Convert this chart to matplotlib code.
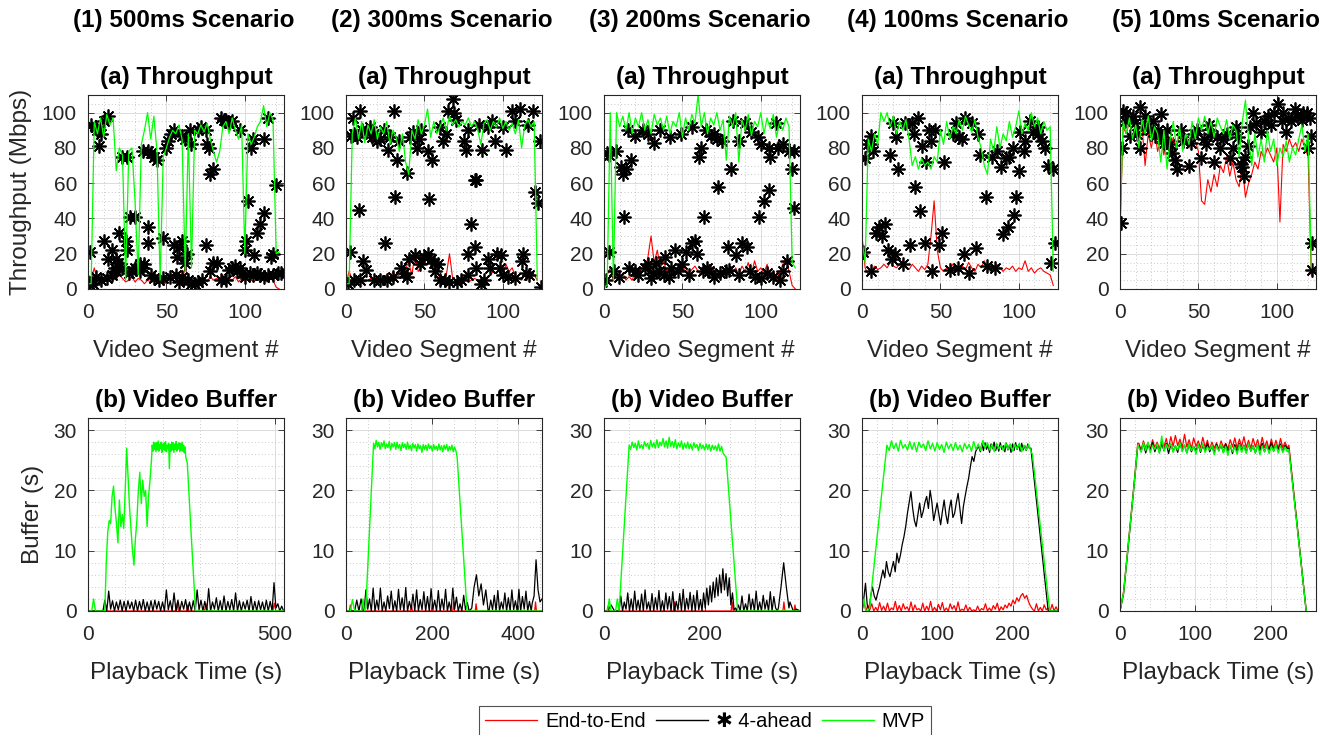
import matplotlib
matplotlib.use("Agg")
import matplotlib.pyplot as plt
from matplotlib.lines import Line2D
from matplotlib.ticker import MultipleLocator
import numpy as np

plt.rcParams['font.family'] = ['Liberation Sans', 'DejaVu Sans']

# ------------------------------------------------------------------
# Throughput (Mbps), sampled every second video segment
# ------------------------------------------------------------------
segments = np.arange(0, 124, 2)

e2e_tp_1 = [3, 5, 12, 5, 6, 4, 5, 7, 5, 6,
            8, 6, 4, 5, 7, 4, 6, 5, 3, 5,
            4, 6, 3, 5, 4, 3, 6, 5, 4, 7,
            5, 12, 6, 3, 4, 2, 5, 6, 4, 7,
            5, 6, 5, 8, 4, 6, 5, 7, 4, 6,
            5, 8, 5, 4, 7, 5, 6, 4, 8, 5,
            1, 0]
mvp_tp_1 = [3, 3, 95, 88, 97, 86, 99, 93, 97, 67,
            80, 76, 5, 78, 80, 50, 8, 82, 90, 100,
            85, 98, 78, 5, 75, 80, 86, 90, 88, 93,
            85, 10, 88, 12, 90, 88, 93, 89, 94, 85,
            78, 72, 78, 92, 95, 88, 97, 90, 85, 93,
            20, 88, 82, 86, 92, 95, 104, 92, 100, 96,
            20, 21]
ahead_tp_1 = [(0, 4), (1, 2), (1, 21), (2, 93), (5, 92), (6, 90), (7, 81), (8, 88), (10, 95),
              (13, 98), (5, 7), (8, 5), (12, 6), (10, 27), (13, 17), (15, 22), (17, 12), (18, 17),
              (19, 15), (20, 32), (22, 75), (25, 75), (24, 27), (25, 22), (27, 41), (30, 41),
              (28, 10), (30, 12), (33, 14), (35, 12), (35, 78), (38, 78), (40, 77), (42, 75),
              (44, 73), (38, 35), (38, 26), (40, 8), (42, 6), (45, 5), (48, 29), (50, 80), (51, 84),
              (53, 88), (55, 90), (55, 25), (57, 18), (58, 24), (60, 27), (60, 87), (62, 85),
              (62, 15), (63, 20), (65, 90), (66, 82), (60, 7), (64, 5), (68, 3), (70, 4), (70, 90),
              (72, 92), (75, 90), (75, 25), (76, 82), (77, 80), (78, 65), (80, 68), (78, 10),
              (80, 15), (82, 15), (85, 5), (85, 97), (87, 96), (88, 95), (90, 94), (92, 95),
              (92, 12), (95, 10), (97, 12), (97, 90), (100, 22), (101, 27), (100, 7), (102, 50),
              (104, 80), (105, 85), (106, 19), (108, 32), (110, 37), (112, 43), (112, 85),
              (115, 97), (117, 18), (118, 20), (120, 59), (121, 9), (105, 8), (110, 8), (115, 8),
              (3, 3), (15, 8), (18, 10), (22, 12), (26, 9), (33, 10), (36, 14), (48, 6), (52, 7),
              (56, 8), (58, 4), (66, 3), (73, 5), (88, 5), (90, 11), (94, 13), (98, 9), (103, 9),
              (108, 9), (112, 7), (118, 8), (123, 9)]

e2e_tp_2 = [3, 10, 5, 7, 5, 6, 4, 5, 6, 5,
            4, 6, 5, 8, 6, 10, 7, 8, 9, 12,
            15, 8, 20, 10, 12, 15, 18, 16, 14, 10,
            6, 5, 8, 20, 6, 5, 4, 5, 6, 4,
            5, 6, 5, 4, 7, 6, 8, 10, 9, 12,
            8, 14, 10, 12, 7, 6, 5, 8, 6, 10,
            8, 5]
mvp_tp_2 = [3, 3, 88, 97, 85, 95, 83, 93, 88, 96,
            85, 92, 88, 95, 82, 90, 86, 78, 88, 72,
            65, 90, 85, 96, 88, 93, 102, 86, 95, 88,
            92, 97, 90, 98, 93, 96, 92, 95, 93, 97,
            92, 95, 90, 82, 94, 96, 90, 95, 92, 97,
            91, 95, 90, 94, 88, 96, 80, 93, 96, 92,
            95, 5]
ahead_tp_2 = [(1.5, 3), (2.6, 21), (3, 87), (4.7, 97), (8, 45), (9, 101), (11, 16), (13, 11),
              (13, 89), (16.5, 86), (20, 84), (22, 85), (25, 26), (26, 5), (27, 79), (28, 86),
              (30.5, 101), (31.5, 52), (32.6, 73), (35, 12), (39, 66), (39, 7), (43, 89), (44, 19),
              (45.5, 80), (46.6, 85), (52, 78), (53, 51), (55, 73), (52, 20), (54, 17), (56, 15),
              (58.4, 14), (61.6, 84), (63, 5), (65, 101), (68, 108), (69, 100), (71, 4), (73.4, 5),
              (75.5, 84), (76.6, 79), (77.7, 20), (80, 37), (82, 62), (83, 62), (82, 24), (83, 12),
              (86, 3), (87, 79), (90.6, 92), (90.6, 17), (95, 84), (96, 20), (98, 12), (99, 19),
              (102, 79), (103, 7), (105.6, 101), (111, 102), (112, 16), (113, 20), (115, 9),
              (119.5, 101), (120.6, 55), (122.7, 49), (124, 84), (124.5, 1), (5, 5), (9, 5),
              (17.6, 5), (22, 5), (30, 7), (37, 9), (40, 17), (47, 14), (50, 18), (57, 10), (60, 5),
              (66, 4), (78, 8), (88, 5), (92, 12), (100, 8), (108, 6), (117, 8), (5, 88), (7, 86),
              (10, 90), (15, 92), (18, 88), (24, 90), (34, 84), (41, 86), (48, 90), (60, 92),
              (64, 88), (70, 96), (78, 90), (85, 93), (93, 95), (100, 92), (108, 95), (116, 93)]

e2e_tp_3 = [0, 8, 12, 5, 8, 6, 9, 5, 7, 5,
            10, 8, 12, 10, 18, 30, 15, 22, 12, 16,
            10, 12, 8, 10, 14, 10, 12, 9, 11, 13,
            10, 8, 12, 9, 14, 10, 11, 8, 10, 7,
            11, 9, 12, 8, 13, 10, 15, 8, 16, 10,
            12, 9, 14, 8, 10, 6, 9, 14, 17, 10,
            2, 0]
mvp_tp_3 = [1, 2, 100, 5, 100, 92, 98, 90, 100, 88,
            97, 92, 100, 90, 96, 88, 99, 93, 97, 90,
            98, 88, 95, 92, 100, 86, 97, 90, 99, 94,
            110, 92, 100, 88, 97, 93, 100, 90, 96, 73,
            98, 92, 100, 72, 96, 90, 99, 87, 95, 92,
            100, 88, 97, 91, 99, 86, 95, 90, 97, 92,
            15, 12]
ahead_tp_3 = [(1.3, 5), (3, 21), (3.4, 76), (7.6, 78), (10.8, 69), (14, 68), (17, 73), (13, 41),
              (6.6, 10), (9.7, 7), (15, 90), (20, 87), (20, 10), (24.6, 90), (28, 14), (31, 9),
              (32, 83), (36, 90), (35, 10), (39, 18), (41.5, 7), (45, 22), (47, 10), (49, 88),
              (52, 21), (56, 26), (58, 27), (59.5, 20), (60.6, 75), (62, 80), (63, 10), (64, 41),
              (67, 10), (65, 90), (68, 87), (72, 85), (73, 58), (75, 84), (78, 10), (79, 24),
              (81, 68), (82, 95), (84, 19), (88, 26), (91, 24), (90, 94), (94, 89), (96.6, 7),
              (98.7, 41), (102, 50), (105, 56), (100, 82), (105, 80), (106, 75), (110, 94),
              (111, 80), (112, 5), (117, 16), (120, 68), (121, 46), (118, 78), (121, 78), (2, 77),
              (12, 65), (16, 12), (22, 8), (26, 12), (30, 6), (33, 15), (38, 8), (43, 12), (50, 14),
              (54, 8), (66, 12), (70, 7), (74, 9), (80, 11), (86, 8), (93, 10), (100, 6), (104, 9),
              (108, 7), (114, 10), (28, 88), (42, 86), (56, 92), (70, 88), (86, 84), (98, 86),
              (114, 82)]

e2e_tp_4 = [30, 12, 8, 10, 13, 11, 12, 14, 12, 15,
            13, 12, 14, 16, 12, 11, 14, 12, 10, 13,
            11, 14, 30, 50, 22, 12, 10, 12, 11, 14,
            12, 10, 13, 11, 15, 12, 10, 14, 12, 16,
            12, 10, 11, 14, 12, 10, 12, 11, 13, 10,
            12, 11, 16, 10, 12, 9, 11, 12, 10, 9,
            8, 2]
mvp_tp_4 = [28, 15, 85, 78, 88, 82, 100, 95, 100, 92,
            98, 88, 95, 90, 96, 85, 70, 75, 68, 74,
            70, 72, 68, 75, 72, 90, 82, 95, 85, 92,
            88, 96, 90, 98, 93, 89, 96, 86, 80, 70,
            65, 85, 78, 92, 80, 88, 84, 95, 86, 92,
            101, 88, 94, 90, 100, 92, 97, 88, 95, 90,
            92, 10]
ahead_tp_4 = [(0.6, 21), (1.7, 74), (4, 82), (6, 87), (7, 78), (6, 10), (9, 32), (11, 35),
              (12.5, 30), (14.6, 37), (16.7, 22), (19, 17), (21, 20), (17.8, 76), (20, 94), (22, 86),
              (23, 68), (26, 14), (27.5, 94), (30.7, 25), (31.8, 94), (34, 58), (36, 97), (37, 44),
              (38, 81), (40, 26), (41, 72), (42.5, 90), (44.6, 10), (46.8, 90), (49, 25), (51, 32),
              (52, 72), (56, 11), (60, 94), (61, 12), (64, 85), (65, 20), (66, 97), (68, 9),
              (70.4, 94), (72.5, 23), (75, 76), (79, 52), (80, 13), (83, 75), (85, 12), (88.6, 69),
              (89.7, 31), (93, 35), (94, 75), (97, 42), (98, 52), (100, 67), (101, 89), (103.6, 78),
              (107, 95), (109, 89), (112, 92), (115, 84), (118.7, 70), (120.8, 15), (123, 26),
              (6, 82), (33, 88), (44, 84), (58, 88), (62, 86), (74, 88), (86, 78), (92, 74),
              (96, 80), (104, 84), (112, 88), (117, 80), (122, 68)]

e2e_tp_5 = [32, 92, 88, 95, 85, 97, 90, 93, 70, 88,
            80, 90, 78, 85, 76, 88, 80, 86, 78, 90,
            82, 86, 80, 88, 84, 78, 50, 48, 62, 55,
            65, 58, 70, 66, 75, 64, 72, 62, 58, 70,
            52, 60, 65, 72, 68, 78, 74, 80, 76, 72,
            80, 38, 82, 78, 85, 80, 83, 78, 85, 80,
            75, 8]
mvp_tp_5 = [35, 95, 88, 97, 85, 93, 80, 96, 88, 98,
            84, 92, 88, 72, 90, 68, 85, 95, 80, 92,
            78, 88, 82, 95, 85, 97, 90, 98, 88, 95,
            86, 97, 92, 88, 96, 85, 93, 90, 75, 95,
            107, 85, 70, 88, 75, 85, 72, 90, 78, 85,
            70, 80, 75, 84, 72, 80, 76, 85, 93, 78,
            88, 12]
ahead_tp_5 = [(0.5, 37.5), (1, 80), (2, 101), (4, 100), (6.4, 87), (9.7, 94), (13, 103), (13, 80),
              (16, 98), (19, 90), (22.5, 87), (26, 99), (28, 83), (30, 90), (33, 77), (35, 73),
              (36.5, 68), (38.6, 90), (44, 70), (45, 83), (49, 90), (51.5, 74), (53.6, 85), (57, 93),
              (60, 72), (62, 86), (65.5, 85), (70, 74), (72, 80), (74, 92), (75, 86), (77, 71),
              (78, 69), (79, 64), (81.5, 81), (85, 100), (87, 94), (90, 89), (94.4, 98), (96.6, 93),
              (101, 105), (104, 100), (106, 89), (109, 95), (111.6, 102), (116, 96), (119, 100),
              (120, 80), (122, 87), (122.3, 26), (122.7, 11), (3, 95), (8, 98), (11, 88), (15, 92),
              (21, 95), (24, 90), (27, 86), (32, 82), (40, 84), (47, 88), (55, 82), (58, 88),
              (64, 80), (68, 88), (80, 75), (83, 92), (92, 95), (98, 100), (103, 95), (107, 97),
              (113, 98), (117, 100), (121, 97)]

# ------------------------------------------------------------------
# Video buffer (s): runs of (t_start, t_end, values), values evenly spaced in time
# ------------------------------------------------------------------
e2e_buf_1 = [(0, 236, [0, 0]), (236, 242, [0, 1.3, 0]), (264, 270, [0, 1.0, 0]),
             (312, 320, [0, 1.2, 0]), (495, 503, [0, 1.3, 0]), (503, 524, [0, 0])]
ahead_buf_1 = [(0, 38, [0, 0]),
               (40, 524, [0, 1.8, 0, 3.3, 0.3, 1.7, 0, 1.5, 0.2, 1.8, 0, 1.6, 0, 1.7, 0.4, 1.5,
                          0, 1.8, 0, 1.6, 0.2, 1.9, 0, 1.5, 0, 1.7, 0, 1.8, 0.3, 1.6, 0, 1.5, 0,
                          3.5, 0.2, 1.7, 0, 3, 0, 1.8, 0, 1.6, 0.3, 1.9, 0, 1.5, 0, 1.7, 0, 3.5,
                          0.2, 1.8, 0, 1.6, 0, 3.7, 0, 1.5, 0.3, 2.2, 0, 1.7, 0, 2.5, 0, 1.6, 0.2,
                          1.9, 0, 3, 0, 1.7, 0, 1.5, 0.3, 1.8, 0, 2.4, 0, 1.6, 0, 1.7, 0.2, 1.5, 0,
                          1.8, 0, 1.6, 0, 4.7, 0.5, 1.2, 0, 0.8, 0])]
mvp_buf_1 = [(0, 20, [0, 0, 0, 2, 0]),
             (45, 170, [0, 8, 13, 15, 14.5, 19, 20.7, 17, 14.5, 11.3, 18.4, 14, 16, 13.7, 20, 27,
                        22, 17, 13.4, 10, 7.6, 12, 15, 20, 23, 17.8, 21.7, 19, 20, 14, 19, 21.7, 25]),
             (172, 262, [27.5, 26.5, 28, 26.8, 27.8, 26.4, 27.9, 26.7, 28.2, 26.5,
                         27.6, 26.9, 28, 26.3, 27.7, 26.8, 27.9, 26.6, 28.1, 26.4,
                         27.5, 26.9, 27.8, 23.6, 27.6, 26.5, 28, 26.7, 27.9, 26.3,
                         27.7, 26.8, 28.1, 26.5, 27.6, 26.9, 27.9, 26.4, 27.8, 26.6,
                         28, 26.5, 27.5, 26.2, 27.2, 25.5]),
             (266, 288, [24.5, 12, 0]), (290, 524, [0, 0])]

e2e_buf_2 = [(0, 8, [0, 0]), (8, 12, [0, 1, 0]), (150, 154, [0, 1, 0]), (198, 202, [0, 1.2, 0]),
             (248, 252, [0, 1.5, 0]), (300, 304, [0, 1.2, 0]), (438, 442, [0, 1.5, 0]),
             (442, 455, [0, 0])]
ahead_buf_2 = [(0, 40, [0, 0, 0, 0, 0, 1.8, 0, 2, 0]),
               (42, 290, [0, 3.5, 0.3, 2, 0, 3.8, 0, 1.8, 0.2, 3.8, 0, 1.5, 0, 2.5, 0.4, 3.3, 0,
                          1.7, 0, 3.6, 0.2, 2.2, 0, 3.9, 0, 1.6, 0.3, 2.8, 0, 3.5, 0, 1.9, 0.2, 3.2,
                          0, 2.4, 0, 3.7, 0.3, 1.8, 0, 3.4, 0, 2, 0.2, 3.6, 0, 1.5, 0, 3.8, 0.3,
                          2.3, 0, 1.2, 0, 2.6, 0.2, 1.4, 0, 0.3]),
               (292, 330, [0.5, 4, 6, 2.5, 4.5, 1, 3.5, 0]),
               (332, 430, [0, 1.8, 0.2, 2.6, 0, 3.4, 0, 1.5, 0.3, 3, 0, 2.2, 0, 3.5, 0.2, 1.7,
                           0, 3.6, 0, 2.4, 0.3, 3.3, 0, 1.6, 0]),
               (432, 455, [1.2, 2.5, 8.5, 3.5, 1.5, 2])]
mvp_buf_2 = [(0, 20, [0, 0, 0, 1.9, 0]), (36, 46, [0, 2, 0, 0.5]),
             (64, 255, [27.8, 26.9, 28.3, 27.2, 28, 26.8, 27.9, 27.3, 28.2, 26.9,
                        27.7, 27.1, 28.1, 26.7, 27.8, 27.2, 27.9, 26.8, 28, 27,
                        27.6, 26.6, 27.9, 27.1, 27.7, 26.8, 28, 26.9, 27.5, 26.6,
                        27.8, 27, 27.6, 26.5, 27.7, 26.9, 27.4, 26.3, 27.6, 26.8,
                        27.5, 26.6, 27.7, 26.9, 27.4, 26.5, 27.6, 26.8, 27.3, 26.6,
                        27.7, 26.7, 27.4, 26.4, 27.5, 26.8, 27.6, 26.5, 27.3, 26.7,
                        27.5, 26.4, 27.2, 26.6]),
             (258, 281, [25.5, 0]), (283, 455, [0, 0])]

e2e_buf_3 = [(0, 6, [0, 0]), (6, 10, [0, 0.8, 0]), (138, 142, [0, 1.5, 0]),
             (253, 257, [0, 1.5, 0]), (356, 360, [0, 1.5, 0]), (378, 382, [0, 1, 0]),
             (382, 390, [0, 0])]
ahead_buf_3 = [(0, 28, [0, 0, 1, 0, 0]),
               (30, 192, [0, 2.5, 0, 1.5, 0.3, 3, 0, 2, 0, 3.3, 0.2, 1.8, 0, 2.8, 0, 3.5, 0.3,
                          1.5, 0, 2.9, 0, 2.2, 0.2, 3.4, 0, 1.7, 0, 3, 0.3, 2.4, 0, 3.2, 0, 1.6,
                          0.2, 2.9, 0, 3.6, 0, 2.1, 0.3, 3.1, 0, 2.6, 0, 3.4, 0.2, 1.9]),
               (195, 262, [0, 3, 0.5, 3.8, 1, 4.2, 1.5, 4.8, 2.2, 5.5, 2.5, 6, 3, 7, 3.5, 6.2,
                           2.5, 5.5, 1, 3, 0.2, 0.5]),
               (264, 345, [0, 1, 0, 2.5, 0, 1.2, 0, 2.8, 0.2, 2, 0, 3.3, 0, 1.5, 0, 2.6, 0.3,
                           1.8, 0, 3.2, 0, 2.4, 0.5, 0]),
               (347, 368, [0.5, 4, 8, 4, 0.5]), (370, 390, [1.5, 0, 0.3, 0])]
mvp_buf_3 = [(0, 14, [0, 0, 0, 2, 0]), (23, 30, [0, 2, 0]),
             (50, 240, [27.5, 26.8, 28, 27.1, 27.8, 26.7, 28.2, 27, 27.6, 26.9,
                        28.1, 27.3, 27.8, 26.8, 28.3, 27.2, 27.9, 27, 28.4, 27.1,
                        28, 27.4, 28.6, 27.2, 28.2, 27, 28.8, 27.3, 28.1, 27.1,
                        28.4, 26.9, 27.9, 27.2, 28.2, 26.8, 27.8, 27, 28, 26.9,
                        27.7, 26.7, 27.9, 27.1, 27.6, 26.6, 27.8, 26.9, 27.5, 26.7,
                        27.7, 26.8, 27.6, 26.5, 27.5, 26.8, 27.4, 26.6, 27.7, 26.5,
                        27.3, 26.2, 25.8]),
             (243, 266, [25.5, 0]), (268, 390, [0, 0])]

e2e_buf_4 = [(0, 260, [0, 1.5, 0, 1, 0.2, 1.2, 0, 0.6, 0, 1.4, 0.1, 0.8, 0, 1.3, 0, 0.5, 0.2,
                       1.6, 0, 0.9, 0, 1.2, 0.3, 0.7, 0, 1.5, 0, 1, 0.2, 0.4, 0, 1.3, 0, 0.8,
                       0.1, 1.6, 0, 0.6, 0, 1.1, 0.2, 1.4, 0, 0.5, 0, 1.2, 0.3, 0.9, 0, 1.5, 0,
                       0.3, 0.1, 1, 0, 0.6, 0, 0.2, 0, 0.8, 0, 0.4, 0.2, 1.2, 0, 0.5, 0, 0.9,
                       0.3, 1.3, 0, 0.7, 0.2, 1, 0.5, 1.3, 0.8, 1.8, 1.2, 2.2, 1.6, 2.5, 2.9,
                       2.1, 2.6, 1.5, 0.8, 0.3, 0, 1.2, 0, 0.6, 0, 1, 0.2, 0.5, 0, 1.1, 0, 0.7, 0])]
ahead_buf_4 = [(0, 153, [0, 2, 4.6, 1, 0, 2.5, 4, 2.5, 1.8, 3, 4, 5.5, 6.8, 5.5, 8.2, 6.5, 5.7, 7,
                         8.2, 6.5, 9.6, 8, 9.3, 11, 12.3, 14, 16.2, 18, 19.8, 17, 15, 14, 16,
                         17.9, 15.5, 16.5, 18, 19, 17, 20, 18, 15, 16.5, 17.9, 16, 14.3, 16.5,
                         18.4, 16, 14.5, 17, 18.4, 15.5, 16.2, 18, 19.5, 17, 14.5, 17.3, 19, 20.6,
                         22, 23.9, 25.6, 24.8, 26.4, 27]),
               (155, 222, [27.2, 26.4, 27.8, 26.6, 27.9, 26.8, 27.5, 26.3, 27.7, 26.9,
                           28, 26.6, 27.6, 26.5, 27.9, 26.8, 27.4, 26.4, 27.8, 26.7,
                           27.5, 26.3, 27.7, 26.6, 27.9, 26.8, 27.6, 26.5, 27.8, 26.7,
                           27.4, 26.6, 27.7, 27]),
               (224, 247, [27, 0]), (249, 260, [0, 0])]
mvp_buf_4 = [(0, 10, [0, 2, 0, 0, 0.5]),
             (33, 224, [27.5, 26.6, 28.2, 26.9, 27.8, 26.5, 28.3, 27, 27.6, 26.7,
                        28.1, 26.8, 27.9, 26.4, 28, 27.1, 27.7, 26.6, 28.2, 26.9,
                        27.8, 26.5, 27.9, 26.8, 27.6, 26.3, 28, 26.9, 27.7, 26.6,
                        27.9, 26.7, 27.5, 26.4, 27.8, 26.9, 27.6, 26.5, 28.1, 26.8,
                        27.7, 26.6, 28.3, 27, 27.9, 26.7, 27.6, 26.4, 27.8, 26.9,
                        27.5, 26.6, 27.9, 26.8, 27.7, 26.5, 27.6, 26.9, 27.8, 26.4,
                        27.5, 26.7, 27.6, 26.5]),
             (226, 249, [26, 0]), (251, 260, [0, 0])]

e2e_buf_5 = [(0, 23.5, [0, 3.2, 9.2, 15.2, 21.3, 27.8]),
             (25, 222, [27.8, 26.7, 28.2, 27, 27.9, 26.8, 28.4, 27.1, 28, 26.9,
                        28.3, 27.2, 28.6, 27, 28.9, 27.3, 29.1, 27.4, 28.5, 27.1,
                        29.3, 27.2, 28.4, 26.9, 28.7, 27.3, 28.2, 27, 28.8, 27.1,
                        28.3, 26.8, 28, 27, 27.9, 26.8, 28.2, 27.1, 27.8, 26.9,
                        28.4, 27.2, 28.7, 27, 28.5, 27.3, 28.9, 27.1, 28.3, 27,
                        28.6, 27.2, 28.4, 26.9, 28.8, 27.1, 28.2, 26.8, 28.5, 27,
                        28.3, 26.9, 28.6, 27.1, 28, 27]),
             (224, 247, [27.5, 0])]
ahead_buf_5 = [(0, 23.5, [0, 2.8, 8.7, 14.8, 21, 27.2]),
               (25, 222, [27.4, 26.5, 27.8, 26.2, 27.6, 26.7, 27.9, 26.4, 27.5, 26.3,
                          27.7, 26.6, 27.8, 26.1, 27.6, 26.5, 27.4, 26.3, 27.9, 26.6,
                          27.5, 26.2, 27.7, 26.4, 27.3, 26.6, 27.6, 26.3, 27.5, 26.5,
                          27.8, 26.4, 27.4, 26.2, 27.6, 26.6, 27.5, 26.3, 27.7, 26.5,
                          27.4, 26.1, 27.6, 26.4, 27.8, 26.6, 27.5, 26.3, 27.7, 26.5,
                          27.4, 26.2, 27.6, 26.6, 27.8, 26.4, 27.5, 26.7, 27.9, 26.5,
                          27.6, 26.8, 27.7, 26.4, 27.5, 26.9]),
               (224, 247, [27, 0])]
mvp_buf_5 = [(0, 23.5, [0, 3, 9, 15, 21, 27.5]),
             (25, 222, [27.2, 26.3, 27.9, 26.6, 28, 26.2, 27.5, 26.8, 27.7, 26.1,
                        29, 26.5, 27.6, 26.9, 27.8, 26.3, 27.4, 26.7, 27.9, 26.4,
                        27.5, 26.2, 27.7, 26.6, 27.3, 26, 27.6, 26.5, 27.8, 26.3,
                        27.2, 26.7, 27.5, 25.9, 27.4, 26.5, 27.7, 26.2, 27.3, 25.8,
                        27.5, 26.4, 27.2, 26, 27.6, 26.3, 27.4, 26.1, 27.8, 26.5,
                        27.3, 26.2, 27.6, 25.9, 27.4, 26.4, 27.5, 26.1, 27.3, 26.5,
                        27.6, 26.2, 27.4, 26.3, 27.2, 26.4]),
             (224, 247, [26.8, 0])]

scenarios = ['(1) 500ms Scenario', '(2) 300ms Scenario', '(3) 200ms Scenario',
             '(4) 100ms Scenario', '(5) 10ms Scenario']
buf_xmax = [525, 455, 390, 260, 260]
buf_xmajor = [500, 200, 200, 100, 100]
buf_xminor = [100, 50, 50, 20, 20]


def runs_to_xy(runs):
    t = np.concatenate([np.linspace(a, b, len(v)) for a, b, v in runs])
    y = np.concatenate([np.asarray(v, float) for a, b, v in runs])
    return t, y


TXT = '#262626'
RED, GREEN = '#ff0000', '#00ff00'
W, H = 1330, 735


def style(ax, xmaj, xmin, ymaj, ymin):
    ax.xaxis.set_major_locator(MultipleLocator(xmaj))
    ax.xaxis.set_minor_locator(MultipleLocator(xmin))
    ax.yaxis.set_major_locator(MultipleLocator(ymaj))
    ax.yaxis.set_minor_locator(MultipleLocator(ymin))
    ax.set_axisbelow(True)
    ax.grid(which='major', color='#dcdcdc', lw=0.7)
    ax.grid(which='minor', color='#b8b8b8', lw=0.6, ls=(0, (1, 3)))
    ax.tick_params(which='major', direction='in', length=4, width=0.6, top=True, right=True,
                   labelsize=15, colors=TXT)
    ax.tick_params(axis='x', which='major', pad=10)
    ax.tick_params(axis='y', which='major', pad=8)
    ax.tick_params(which='minor', length=0)
    for s in ax.spines.values():
        s.set_color(TXT)
        s.set_linewidth(0.8)


fig = plt.figure(figsize=(13.3, 7.35), dpi=100)

e2e_tp = [e2e_tp_1, e2e_tp_2, e2e_tp_3, e2e_tp_4, e2e_tp_5]
mvp_tp = [mvp_tp_1, mvp_tp_2, mvp_tp_3, mvp_tp_4, mvp_tp_5]
ahead_tp = [ahead_tp_1, ahead_tp_2, ahead_tp_3, ahead_tp_4, ahead_tp_5]
e2e_buf = [e2e_buf_1, e2e_buf_2, e2e_buf_3, e2e_buf_4, e2e_buf_5]
ahead_buf = [ahead_buf_1, ahead_buf_2, ahead_buf_3, ahead_buf_4, ahead_buf_5]
mvp_buf = [mvp_buf_1, mvp_buf_2, mvp_buf_3, mvp_buf_4, mvp_buf_5]

lefts = [88, 346, 604, 862, 1120]
for i in range(5):
    # throughput
    ax = fig.add_axes([lefts[i] / W, 1 - 289 / H, 196 / W, 194 / H])
    ax.plot(segments, e2e_tp[i], color=RED, lw=0.8)
    sx, sy = zip(*ahead_tp[i])
    ax.plot(sx, sy, ls='none', marker=(8, 2, 0), ms=10, mew=1.25, color='k')
    ax.plot(segments, mvp_tp[i], color=GREEN, lw=0.9)
    ax.set_xlim(0, 125)
    ax.set_ylim(0, 110)
    style(ax, 50, 10, 20, 5)
    ax.set_title('(a) Throughput', fontsize=17.5, fontweight='bold', pad=8)
    ax.set_xlabel('Video Segment #', fontsize=17.5, color=TXT, labelpad=13)
    if i == 0:
        ax.set_ylabel('Throughput (Mbps)', fontsize=17.5, color=TXT, labelpad=7)
    fig.text((lefts[i] + 96) / W, 1 - 20 / H, scenarios[i], ha='center', va='center',
             fontsize=17.5, fontweight='bold')

    # buffer
    ax = fig.add_axes([lefts[i] / W, 1 - 611 / H, 196 / W, 193 / H])
    t, y = runs_to_xy(e2e_buf[i])
    ax.plot(t, y, color=RED, lw=0.9)
    t, y = runs_to_xy(ahead_buf[i])
    ax.plot(t, y, color='k', lw=0.9)
    t, y = runs_to_xy(mvp_buf[i])
    ax.plot(t, y, color=GREEN, lw=1.0)
    ax.set_xlim(0, buf_xmax[i])
    ax.set_ylim(0, 32)
    style(ax, buf_xmajor[i], buf_xminor[i], 10, 2)
    ax.set_title('(b) Video Buffer', fontsize=17.5, fontweight='bold', pad=8)
    ax.set_xlabel('Playback Time (s)', fontsize=17.5, color=TXT, labelpad=13)
    if i == 0:
        ax.set_ylabel('Buffer (s)', fontsize=17.5, color=TXT, labelpad=7)

handles = [Line2D([], [], color=RED, lw=0.9),
           Line2D([], [], color='k', lw=1.0),
           Line2D([], [], color=GREEN, lw=1.0)]
leg = fig.legend(handles, ['End-to-End', '\u2731 4-ahead', 'MVP'], loc='upper left',
                 bbox_to_anchor=(479 / W, 1 - 706 / H), ncol=3, fontsize=14.4, frameon=True,
                 fancybox=False, edgecolor=TXT, handlelength=2.6, handletextpad=0.4,
                 columnspacing=0.5, borderpad=0.3, borderaxespad=0)
leg.get_frame().set_linewidth(0.8)
for txt in leg.get_texts():
    txt.set_color('black')

fig.savefig('out.png', dpi=100)
